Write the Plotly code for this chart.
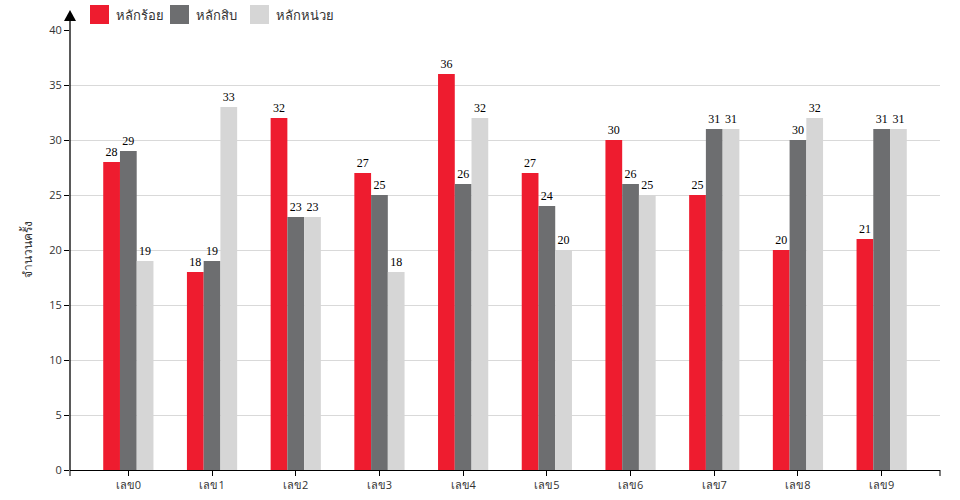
import plotly.graph_objects as go

categories = ["เลข0", "เลข1", "เลข2", "เลข3", "เลข4", "เลข5", "เลข6", "เลข7", "เลข8", "เลข9"]
series_names = ["หลักร้อย", "หลักสิบ", "หลักหน่วย"]
hundreds = [28, 18, 32, 27, 36, 27, 30, 25, 20, 21]
tens = [29, 19, 23, 25, 26, 24, 26, 31, 30, 31]
units = [19, 33, 23, 18, 32, 20, 25, 31, 32, 31]
y_ticks = [0, 5, 10, 15, 20, 25, 30, 35, 40]
y_title = "จำนวนครั้ง"

colors = ["#EE1C2F", "#6D6E70", "#D6D6D6"]
xs = list(range(len(categories)))

fig = go.Figure()
label_font = dict(family="Liberation Serif", size=12, color="#000000")
for name, vals, col in zip(series_names, [hundreds, tens, units], colors):
    fig.add_trace(go.Bar(
        x=xs, y=vals, name=name, marker=dict(color=col, line=dict(width=0)),
        text=[str(v) for v in vals], textposition="outside",
        textfont=label_font, outsidetextfont=label_font,
        cliponaxis=False, showlegend=False,
    ))

W, H = 960, 500
ml, mr, mt, mb = 70, 20, 30, 30
pw, ph = W - ml - mr, H - mt - mb

def px(x):
    return (x - ml) / pw

def py(y):
    return (H - mb - y) / ph

shapes = []
annotations = []
# custom legend
for i, (name, col) in enumerate(zip(series_names, colors)):
    x0 = 90 + 80 * i
    shapes.append(dict(type="rect", xref="paper", yref="paper",
                       x0=px(x0), x1=px(x0 + 19), y0=py(5), y1=py(24),
                       fillcolor=col, line=dict(width=0)))
    annotations.append(dict(text=name, xref="paper", yref="paper",
                            x=px(x0 + 24), y=py(14.5), xanchor="left", yanchor="middle",
                            showarrow=False, font=dict(size=13, color="#333")))
# y axis line extension + arrow
shapes.append(dict(type="line", xref="paper", yref="paper",
                   x0=0, x1=0, y0=0, y1=py(18), line=dict(color="#000", width=1.3)))
shapes.append(dict(type="path", xref="paper", yref="paper",
                   path=f"M {px(64)} {py(21)} L {px(76)} {py(21)} L {px(70)} {py(10)} Z",
                   fillcolor="#000", line=dict(width=0)))
# x axis end ticks
for xe in (70, 940):
    shapes.append(dict(type="line", xref="paper", yref="paper",
                       x0=px(xe), x1=px(xe), y0=0, y1=py(476), line=dict(color="#000", width=1)))
annotations.append(dict(text=y_title, xref="paper", yref="paper", x=px(27), y=0.5,
                        textangle=-90, showarrow=False, xanchor="center", yanchor="middle",
                        font=dict(size=12, color="#333")))

pad = 0.197
fig.update_layout(
    width=W, height=H, margin=dict(l=ml, r=mr, t=mt, b=mb, autoexpand=False),
    plot_bgcolor="white", paper_bgcolor="white",
    barmode="group", bargap=0.4, bargroupgap=0,
    shapes=shapes, annotations=annotations,
    xaxis=dict(range=[-0.5 - pad, len(categories) - 0.5 + pad], tickmode="array",
               tickvals=xs, ticktext=categories, showgrid=False, showline=True,
               linecolor="#000", linewidth=1.3, ticks="outside", ticklen=5, tickcolor="#000",
               tickfont=dict(size=11, color="#333"), zeroline=False, fixedrange=True,
               automargin=False),
    yaxis=dict(range=[0, 40], tickmode="array", tickvals=y_ticks, showgrid=True,
               gridcolor="#D9D9D9", gridwidth=1, showline=False, ticks="outside",
               ticklen=5, tickcolor="#000", tickfont=dict(size=11, color="#333"),
               zeroline=False, fixedrange=True, automargin=False),
    showlegend=False,
)

fig.write_html("out.html")
